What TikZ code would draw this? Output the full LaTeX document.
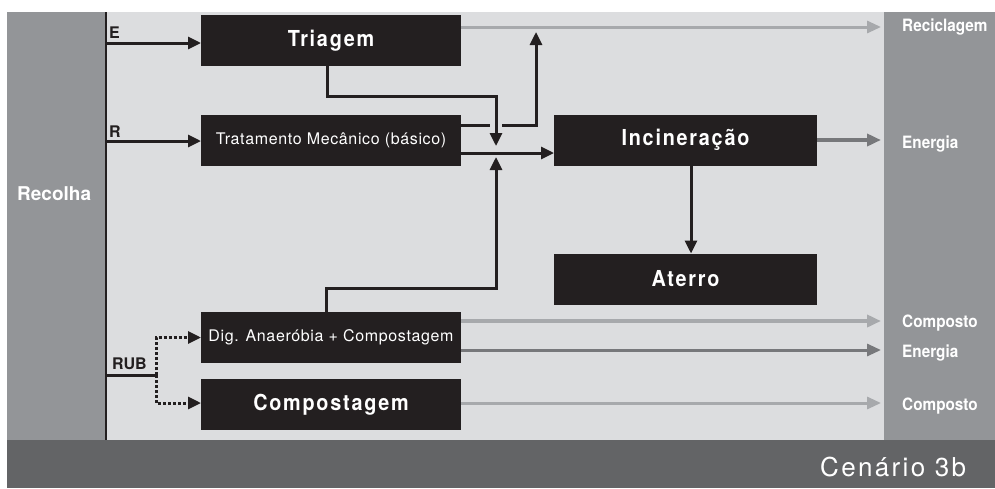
\documentclass[tikz,border=0pt]{standalone}
\usepackage{fontspec}
\setmainfont{TeX Gyre Heros}
\newfontfamily\boxbold{TeX Gyre Heros}[LetterSpace=8, FakeStretch=0.9]
\newfontfamily\boxreg{TeX Gyre Heros}[LetterSpace=4]
\newfontfamily\cenfont{TeX Gyre Heros}[LetterSpace=9]
\newfontfamily\outfont{TeX Gyre Heros}[FakeStretch=0.9]
\usetikzlibrary{arrows.meta,calc}
\definecolor{panelc}{HTML}{939598}
\definecolor{lightc}{HTML}{DCDDDF}
\definecolor{bandc}{HTML}{636466}
\definecolor{boxc}{HTML}{231F20}
\definecolor{grl}{HTML}{A7A9AC}
\definecolor{grd}{HTML}{77787B}
\tikzset{
  area/.style={inner sep=0, outer sep=0, draw=none, anchor=north west},
  procbox/.style={fill=boxc, text=white, inner sep=0, outer sep=0, minimum width=260pt, minimum height=51pt},
  boldlbl/.style={font=\boxbold\bfseries\fontsize{22}{26}\selectfont},
  reglbl/.style={font=\boxreg\fontsize{16}{19}\selectfont},
  blk/.style={line width=3pt, draw=boxc, -{Triangle[length=13pt,width=12pt]}},
  blkline/.style={line width=3pt, draw=boxc},
  dotarrow/.style={line width=3pt, draw=boxc, dash pattern=on 3pt off 2pt, -{Triangle[length=13pt,width=12pt]}},
  gryL/.style={line width=3pt, draw=grl, -{Triangle[length=14pt,width=12pt]}, shorten >=3pt},
  gryD/.style={line width=3pt, draw=grd, -{Triangle[length=14pt,width=12pt]}, shorten >=3pt},
  outlbl/.style={text=white, anchor=base west, inner sep=0, font=\outfont\bfseries\fontsize{17}{20}\selectfont},
  inlbl/.style={text=boxc, anchor=base west, inner sep=0, font=\bfseries\fontsize{16}{19}\selectfont}
}
\begin{document}
\begin{tikzpicture}[x=1pt,y=-1pt]
\useasboundingbox[fill=white] (0,0) rectangle (995,488);
% panels
\node[area, fill=panelc, minimum width=99pt, minimum height=428pt] (lp) at (7,12) {};
\node[area, fill=lightc, minimum width=778pt, minimum height=428pt] (mp) at (106,12) {};
\node[area, fill=panelc, minimum width=111pt, minimum height=428pt] (rp) at (884,12) {};
\node[area, fill=bandc, minimum width=988pt, minimum height=48pt] (bp) at (7,440) {};
\draw[line width=2pt, boxc] (lp.north east) -- (lp.south east);
% texts on panels
\node[text=white, anchor=base west, inner sep=0, font=\bfseries\fontsize{19}{22}\selectfont] (recolha) at (17,200) {Recolha};
\node[text=white, anchor=base west, inner sep=0, font=\cenfont\fontsize{26}{30}\selectfont] (cen) at (820,476) {Cenário 3b};
% boxes
\node[procbox, boldlbl] (tri) at (331,40.5) {Triagem};
\node[procbox, reglbl] (trat) at (331,140) {Tratamento Mecânico (básico)};
\node[procbox, boldlbl, minimum width=263pt] (incin) at (685.5,140) {Incineração};
\node[procbox, boldlbl, minimum width=263pt] (aterro) at (685.5,279) {Aterro};
\node[procbox, reglbl] (dig) at (331,337.5) {Dig. Anaeróbia + Compostagem};
\node[procbox, boldlbl] (comp) at (331,404.5) {Compostagem};
% input labels
\node[inlbl] (lE) at (109,38) {E};
\node[inlbl] (lR) at (109,137) {R};
\node[inlbl] (lRUB) at (112,369) {RUB};
% input arrows
\coordinate (eS) at (107,43);
\coordinate (rS) at (107,141);
\coordinate (rubS) at (107,375);
\coordinate (rubJ) at (156,375);
\coordinate (compIn) at ($(comp.west)+(0,-1.5)$);
\draw[blk] (eS) -- (eS -| tri.west);
\draw[blk] (rS) -- (rS -| trat.west);
\draw[blkline] (rubS) -- (rubJ);
\draw[dotarrow] (rubJ) |- (dig.west);
\draw[dotarrow] (rubJ) |- (compIn);
% internal flows
\coordinate (tdn) at (496,146);
\coordinate (tup) at (496,157);
\coordinate (cg1) at (490,125);
\coordinate (cg2) at (502,125);
\coordinate (rup) at (536,32);
\coordinate (tratA) at ($(trat.east)+(0,-15)$);
\coordinate (tratB) at ($(trat.east)+(0,13)$);
\coordinate (triOut) at ($(tri.south)+(-4,0)$);
\coordinate (digOut) at ($(dig.north)+(-5,0)$);
\coordinate (incOut) at ($(incin.south)+(5.5,0)$);
\coordinate (atIn) at ($(aterro.north)+(5.5,0)$);
\draw[blkline] (tratA) -- (cg1);
\draw[blk] (cg2) -| (rup);
\draw[blk] (triOut) -- ++(0,30) -| (tdn);
\draw[blk] (digOut) -- ++(0,-24) -| (tup);
\draw[blk] (tratB) -- (tratB -| incin.west);
\draw[blk] (incOut) -- (atIn);
% outputs
\coordinate (recS) at ($(tri.east)+(0,-13.5)$);
\coordinate (co1S) at ($(dig.east)+(0,-16.5)$);
\coordinate (en2S) at ($(dig.east)+(0,12.5)$);
\coordinate (co2S) at ($(comp.east)+(0,-1.5)$);
\draw[gryL] (recS) -- (recS -| rp.west);
\draw[gryD, line width=4pt] (incin.east) -- (incin.east -| rp.west);
\draw[gryL, line width=4pt] (co1S) -- (co1S -| rp.west);
\draw[gryD] (en2S) -- (en2S -| rp.west);
\draw[gryL] (co2S) -- (co2S -| rp.west);
% output labels
\node[outlbl] (oRec) at (902,31) {Reciclagem};
\node[outlbl] (oEn1) at (902,148) {Energia};
\node[outlbl] (oCo1) at (902,327) {Composto};
\node[outlbl] (oEn2) at (902,357) {Energia};
\node[outlbl] (oCo2) at (902,410) {Composto};
\end{tikzpicture}
\end{document}
